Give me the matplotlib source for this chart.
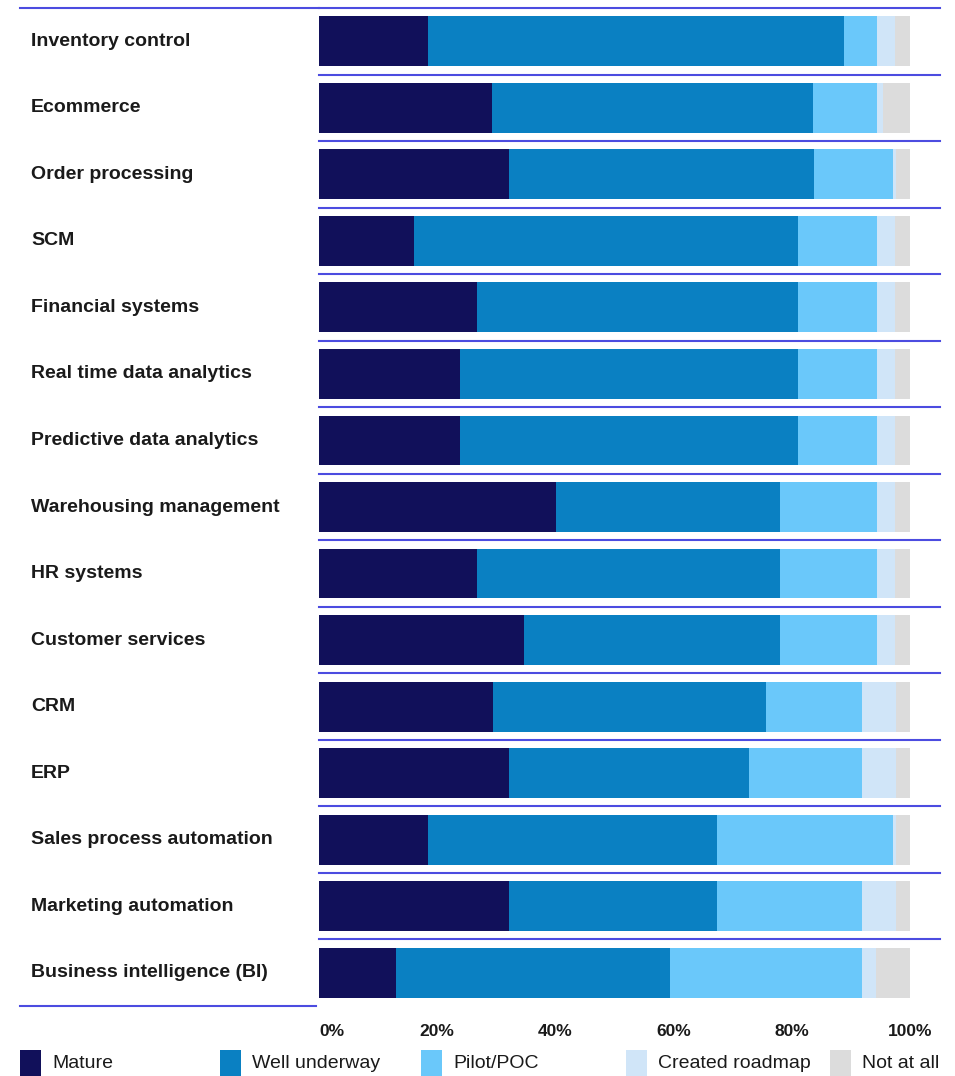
import numpy as np
import matplotlib
matplotlib.use("Agg")
import matplotlib.pyplot as plt
from matplotlib.patches import Rectangle
from matplotlib.lines import Line2D
from matplotlib.transforms import blended_transform_factory

plt.rcParams["font.family"] = ["Liberation Sans", "DejaVu Sans"]

categories = ["Inventory control", "Ecommerce", "Order processing", "SCM",
              "Financial systems", "Real time data analytics",
              "Predictive data analytics", "Warehousing management",
              "HR systems", "Customer services", "CRM", "ERP",
              "Sales process automation", "Marketing automation",
              "Business intelligence (BI)"]

mature          = [18.5, 29.3, 32.1, 16.0, 26.8, 23.8, 23.8, 40.1, 26.8, 34.7, 29.4, 32.1, 18.5, 32.1, 13.0]
well_underway   = [70.4, 54.3, 51.7, 65.1, 54.2, 57.2, 57.2, 38.0, 51.3, 43.4, 46.2, 40.7, 48.8, 35.2, 46.4]
pilot_poc       = [5.6, 10.9, 13.4, 13.4, 13.5, 13.5, 13.5, 16.4, 16.4, 16.4, 16.3, 19.1, 29.9, 24.6, 32.5]
created_roadmap = [2.9, 1.0, 0.5, 2.9, 3.0, 3.0, 3.0, 3.0, 3.0, 3.0, 5.7, 5.7, 0.5, 5.7, 2.4]
not_at_all      = [2.6, 4.5, 2.3, 2.6, 2.5, 2.5, 2.5, 2.5, 2.5, 2.5, 2.4, 2.4, 2.3, 2.4, 5.7]

series_names = ["Mature", "Well underway", "Pilot/POC", "Created roadmap", "Not at all"]
colors = ["#11105a", "#0a80c2", "#6ac8fa", "#d0e5f8", "#dcdcdc"]
line_color = "#4c4ce0"
x_ticks = [0, 20, 40, 60, 80, 100]
x_ticklabels = ["0%", "20%", "40%", "60%", "80%", "100%"]

W, H = 955, 1076
fig = plt.figure(figsize=(W / 100, H / 100), dpi=100)
ax = fig.add_axes([319 / W, 1 - 1006 / H, (940 - 319) / W, 998 / H])

y = np.arange(len(categories))
left = np.zeros(len(categories))
for vals, name, c in zip([mature, well_underway, pilot_poc, created_roadmap, not_at_all],
                         series_names, colors):
    ax.barh(y, vals, left=left, height=0.75, color=c, label=name)
    left += np.array(vals)

ax.set_ylim(len(categories) - 0.5, -0.5)
ax.set_xlim(0, 105.1)
for s in ax.spines.values():
    s.set_visible(False)
ax.set_yticks([])
ax.set_xticks(x_ticks)
ax.set_xticklabels(x_ticklabels, fontweight="bold", fontsize=12.5, color="#1a1a1a")
ax.get_xticklabels()[0].set_horizontalalignment("left")
ax.tick_params(axis="x", length=0, pad=13)

# row separators
for k in range(len(categories)):
    ax.axhline(k - 0.5, color=line_color, lw=1.5, zorder=3, clip_on=False)
fig.add_artist(Line2D([20 / W, 319 / W], [1 - 8 / H, 1 - 8 / H], color=line_color, lw=1.5))
fig.add_artist(Line2D([20 / W, 316 / W], [1 - 1006 / H, 1 - 1006 / H], color=line_color, lw=1.5))

# category labels
trans = blended_transform_factory(fig.transFigure, ax.transData)
for i, cat in enumerate(categories):
    ax.text(31 / W, i, cat, transform=trans, ha="left", va="center",
            fontsize=14, fontweight="bold", color="#1a1a1a")

# legend
legend_x = [20, 220, 421, 626, 830]
for x0, name, c in zip(legend_x, series_names, colors):
    fig.add_artist(Rectangle((x0 / W, 0), 21 / W, 26 / H, transform=fig.transFigure,
                             color=c, lw=0))
    fig.text((x0 + 32) / W, 1 - 1064 / H, name, ha="left", va="center",
             fontsize=14, color="#1a1a1a")

fig.savefig("out.png", dpi=100)
